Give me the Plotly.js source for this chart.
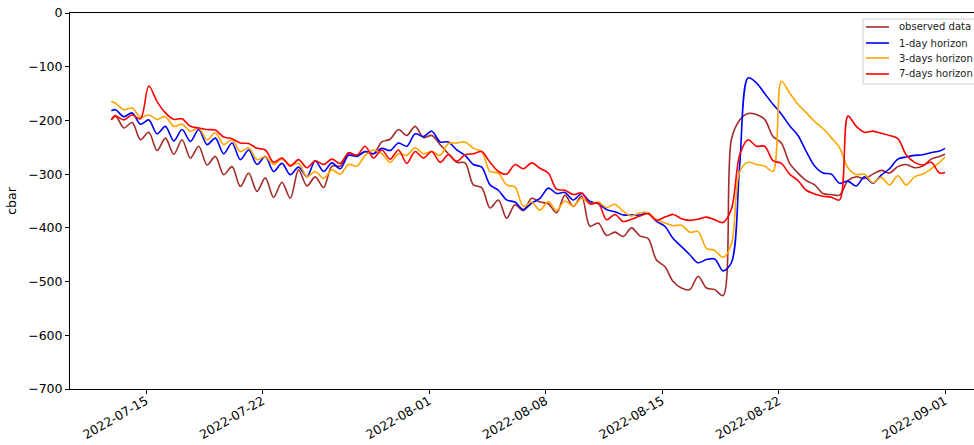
<!DOCTYPE html>
<html>
<head>
<meta charset="utf-8">
<script src="https://cdn.plot.ly/plotly-3.0.1.min.js"></script>
<style>
  html, body { margin: 0; padding: 0; background: #fff; overflow: hidden; }
  #chart { width: 1000px; height: 445px; }
</style>
</head>
<body>
<div id="chart"></div>
<script>
// Soil water tension (cbar): observed sensor data and forecasts at three horizons.
// Samples every 12 h (04:00 / 16:00), plus the first and last readings.
const FIRST_READING = '2022-07-12 22:00';
const LAST_READING = '2022-09-01 00:00';
const FIRST_SAMPLE_UTC = Date.UTC(2022, 6, 13, 4);
const SAMPLE_COUNT = 100;

const seriesNames = ['observed data', '1-day horizon', '3-days horizon', '7-days horizon'];
const seriesColors = ['brown', 'blue', 'orange', 'red'];

const observed = [-198,
  -191,-214, -204,-236, -222,-256, -233,-263, -236,-270, -248,-283, -267,-301, -286,-323, -298,-332, -307,-343,
  -315,-345, -292,-322, -305,-325, -285,-285, -262,-265, -258,-262, -240,-235, -217,-228, -211,-232, -228,-245,
  -262,-278, -279,-320, -325,-363, -348,-382, -357,-368, -345,-352, -355,-372, -339,-360, -341,-397, -391,-414,
  -408,-416, -400,-415, -420,-460, -472,-500, -512,-515, -490,-512, -515,-526, -235,-199, -187,-189, -198,-230,
  -242,-280, -298,-312, -320,-336, -338,-339, -312,-305, -308,-300, -293,-298, -286,-282, -288,-285, -272,-267,
  -263];

const horizon1 = [-182,
  -180,-193, -186,-207, -199,-225, -211,-238, -217,-239, -217,-245, -233,-262, -242,-273, -255,-282, -267,-295,
  -280,-301, -287,-305, -275,-295, -279,-290, -265,-267, -258,-262, -252,-256, -242,-248, -225,-230, -220,-240,
  -240,-255, -265,-282, -287,-320, -330,-348, -352,-366, -354,-345, -326,-336, -334,-348, -336,-351, -355,-366,
  -370,-376, -376,-376, -372,-388, -397,-420, -435,-450, -465,-459, -458,-480, -465,-282, -121,-130, -150,-170,
  -188,-210, -228,-258, -285,-298, -300,-317, -313,-322, -305,-317, -302,-290, -272,-268, -265,-264, -260,-257,
  -252];

const horizon3 = [-165,
  -168,-180, -177,-194, -190,-198, -193,-211, -207,-220, -214,-236, -223,-245, -236,-258, -251,-273, -267,-282,
  -272,-283, -280,-305, -295,-308, -292,-300, -282,-285, -265,-255, -262,-278, -262,-265, -251,-262, -258,-265,
  -243,-242, -240,-252, -258,-295, -298,-320, -324,-360, -352,-367, -351,-368, -350,-360, -345,-355, -352,-362,
  -356,-369, -378,-372, -372,-385, -391,-396, -395,-408, -407,-438, -442,-455, -430,-295, -278,-282, -285,-295,
  -127,-149, -170,-186, -202,-215, -232,-251, -288,-301, -300,-316, -306,-320, -303,-320, -305,-300, -290,-278,
  -268];

const horizon7 = [-199,
  -192,-199, -190,-197, -136,-165, -186,-198, -197,-211, -214,-217, -218,-231, -234,-242, -243,-252, -255,-278,
  -270,-285, -273,-288, -275,-282, -272,-280, -260,-265, -248,-270, -255,-272, -255,-280, -258,-270, -258,-278,
  -264,-276, -264,-262, -258,-278, -295,-300, -282,-290, -279,-289, -298,-328, -330,-338, -335,-355, -354,-385,
  -375,-388, -384,-378, -374,-386, -380,-375, -383,-386, -384,-380, -385,-390, -365,-264, -236,-248, -248,-275,
  -280,-300, -312,-330, -337,-341, -343,-348, -192,-211, -222,-220, -224,-228, -234,-264, -278,-283, -278,-298,
  -297];

const xTickDates = ['2022-07-15', '2022-07-22', '2022-08-01', '2022-08-08', '2022-08-15', '2022-08-22', '2022-09-01'];
const yTickValues = [0, -100, -200, -300, -400, -500, -600, -700];
const yTickLabels = ['0', '\u2212100', '\u2212200', '\u2212300', '\u2212400', '\u2212500', '\u2212600', '\u2212700'];

// Timestamps of the 12-hourly samples.
function sampleTimes() {
  const out = [FIRST_READING];
  for (let i = 0; i < SAMPLE_COUNT; i++) {
    const d = new Date(FIRST_SAMPLE_UTC + i * 12 * 3600 * 1000);
    out.push(d.toISOString().slice(0, 16).replace('T', ' '));
  }
  out.push(LAST_READING);
  return out;
}

const times = sampleTimes();
const values = [observed, horizon1, horizon3, horizon7];

const traces = values.map((v, i) => ({
  type: 'scatter',
  mode: 'lines',
  x: times,
  y: v,
  name: seriesNames[i],
  line: { color: seriesColors[i], width: 1.6, shape: 'spline', smoothing: 0.9 }
}));

const font = { family: 'DejaVu Sans, sans-serif', size: 12.5, color: '#000' };
const legendFont = { family: 'DejaVu Sans, sans-serif', size: 10, color: '#222' };

// Compact boxed legend in the upper-right corner of the axes (paper coordinates).
const legendBox = { x0: 0.8648, x1: 1.06, y0: 0.8112, y1: 0.984 };
const legendRowY = [0.9628, 0.9202, 0.8803, 0.8378];
const legendLineX = [0.868, 0.8931];
const legendTextX = 0.9019;

const shapes = [{
  type: 'rect', xref: 'paper', yref: 'paper', layer: 'above',
  x0: legendBox.x0, x1: legendBox.x1, y0: legendBox.y0, y1: legendBox.y1,
  fillcolor: 'rgba(255,255,255,0.85)', line: { color: '#cccccc', width: 1 }
}].concat(seriesColors.map((c, i) => ({
  type: 'line', xref: 'paper', yref: 'paper', layer: 'above',
  x0: legendLineX[0], x1: legendLineX[1], y0: legendRowY[i], y1: legendRowY[i],
  line: { color: c, width: 1.6 }
})));

const annotations = seriesNames.map((n, i) => ({
  xref: 'paper', yref: 'paper', x: legendTextX, y: legendRowY[i],
  xanchor: 'left', yanchor: 'middle', showarrow: false,
  text: n, font: legendFont
}));

const layout = {
  width: 1000,
  height: 445,
  margin: { l: 70, r: 13, t: 13, b: 56 },
  paper_bgcolor: '#fff',
  plot_bgcolor: '#fff',
  font: font,
  showlegend: false,
  shapes: shapes,
  annotations: annotations,
  xaxis: {
    type: 'date',
    range: ['2022-07-10 10:25', '2022-09-03 12:30'],
    tickvals: xTickDates,
    tickformat: '%Y-%m-%d',
    tickangle: -30,
    ticks: 'outside', ticklen: 4, tickwidth: 1, tickcolor: '#000',
    ticklabelstandoff: -5,
    showline: true, linecolor: '#000', linewidth: 1, mirror: true,
    showgrid: false, zeroline: false,
    tickfont: font
  },
  yaxis: {
    range: [-700, 0],
    tickvals: yTickValues,
    ticktext: yTickLabels,
    ticks: 'outside', ticklen: 4, tickwidth: 1, tickcolor: '#000',
    showline: true, linecolor: '#000', linewidth: 1, mirror: true,
    showgrid: false, zeroline: false,
    tickfont: font,
    title: { text: 'cbar', font: font, standoff: 8 }
  }
};

Plotly.newPlot('chart', traces, layout, { staticPlot: true, displayModeBar: false });
</script>
</body>
</html>
